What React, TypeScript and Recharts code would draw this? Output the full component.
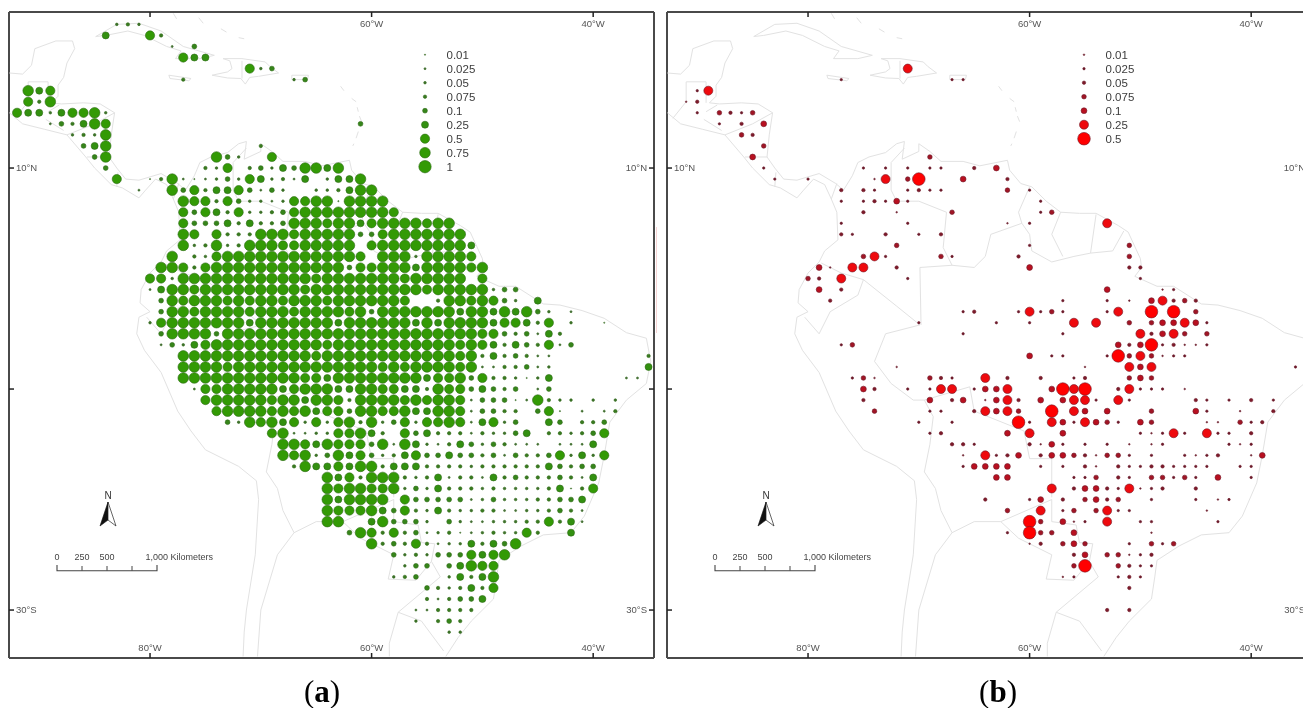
import { ScatterChart, Scatter, XAxis, YAxis } from 'recharts';

// each row: latitude, first longitude, one size class per degree of longitude
// ('.' = no record, spaces only group the digits so they can be counted)
type Row = [number, number, string];

const greenValues = [0.01, 0.025, 0.05, 0.075, 0.1, 0.25, 0.5, 0.75, 1];
const redValues = [0.01, 0.025, 0.05, 0.075, 0.1, 0.25, 0.5];

const greenRows: Row[] = [
  [23, -83, '343'], [22, -84, '6...74'], [21, -78, '2.5'], [20, -77, '766'], [19, -71, '735'],
  [18, -77, '4'], [18, -67, '35'], [17, -91, '867'], [16, -91, '748'], [15, -92, '766367783'],
  [14, -89, '254687'], [14, -61, '5'], [13, -87, '3438'], [12, -86, '568'], [12, -70, '4'],
  [11, -85, '58'], [11, -74, '853..7'], [10, -84, '5'], [10, -75, '437.453658868'],
  [9, -83, '7'], [9, -80, '148212353763426.3668'], [8, -81, '2'], [8, -78, '85746675253..334688'],
  [7, -77, '8774753323 778818888'], [6, -77, '7576473345 7888888887'],
  [5, -77, '7555646445 8887886788 88788'],
  [4, -77, '87.7444888 7888885578 888888'],
  [3, -77, '8348348887 788888.788 8888886'],
  [2, -78, '8.43788888 88888887.8 88388887'],
  [1, -79, '8874788888 8888888577 8886888878'],
  [0, -80, '7738888888 8888878888 888788888. 7'],
  [-1, -80, '2688788888 8888788888 8888878888 8 355'],
  [-2, -79, '5878887878 8788878888 887..48878 753.6'],
  [-3, -79, '5887888878 8878888785 8888888688 686853.2'],
  [-4, -80, '3788888886 8888888688 8888686888 8677647.3..1'],
  [-5, -79, '5888858888 8888888888 8888888887 7545264'],
  [-6, -79, '2536788888 8888878888 8888888787 64654725'],
  [-7, -77, '8888888888 8878888888 88888784 645422'], [-7, -35, '4'],
  [-8, -77, '8888788888 8888888878 78888782 244523'], [-8, -35, '6'],
  [-9, -77, '8888888888 8776888888 88677857443136'], [-9, -37, '22'],
  [-10, -76, '2778888867 8886688776 6487756545.25'],
  [-11, -75, '7888887886 8874888878 7887255512 8433.3.3'],
  [-12, -74, '7888878786 7758877866 88725544.571.2.24'],
  [-13, -73, '5387867373 7848357377 8726735..65.445'],
  [-14, -69, '7822337786 4.75644424 3356.443457'],
  [-15, -68, '8876877758 2863246535 4222.2226'],
  [-16, -68, '8783586753 467556554 52544573637'],
  [-17, -67, '4866768846 6644443444 44465455'],
  [-18, -64, '8674888434 6244264544 45426'],
  [-19, -64, '8788778353 6444343333 46147'],
  [-20, -64, '868888.755 5552353334 4556'],
  [-21, -64, '8777865743 6433442233 4542'],
  [-22, -64, '88..685553 .532233344 7462'],
  [-23, -62, '5874745234 12343374..6'], [-24, -60, '84547423364658'],
  [-25, -58, '53435557678'], [-26, -57, '355.56877'], [-27, -58, '345..36468'],
  [-28, -55, '5434647'], [-29, -55, '424556'], [-30, -56, '224444'], [-31, -56, '3.454'], [-32, -53, '33'],
];

const redRows: Row[] = [
  [19, -71, '6'], [18, -77, '2'], [18, -67, '22'], [17, -90, '26'], [16, -91, '13'], [15, -90, '2.4324'],
  [14, -88, '2.3.5'], [13, -86, '43'], [12, -84, '4'], [11, -85, '5'], [11, -69, '4'],
  [10, -84, '2'], [10, -75, '2.2.2.22..3.5'], [9, -83, '2'], [9, -80, '2'], [9, -74, '16.47...5...3'],
  [8, -77, '3.32..2322.....4.2'], [7, -77, '2.23252'], [7, -59, '2'], [6, -75, '3'], [6, -72, '1'],
  [6, -67, '4'], [6, -59, '24'], [5, -77, '2'], [5, -71, '2'], [5, -62, '1.2'], [5, -53, '6'],
  [4, -77, '32'], [4, -73, '3'], [4, -70, '2.3'], [3, -72, '4'], [3, -60, '2'], [3, -51, '4'],
  [2, -75, '462'], [2, -68, '42'], [2, -61, '3'], [2, -51, '4'], [1, -79, '51.66'], [1, -72, '3'],
  [1, -60, '5'], [1, -51, '33'], [0, -80, '43.6'], [0, -71, '2'], [0, -50, '2'], [-1, -79, '5.3'],
  [-1, -53, '5'], [-1, -48, '12'], [-2, -78, '3'], [-2, -57, '2...2.1.56343'], [-3, -66, '23'],
  [-3, -61, '26242'], [-3, -53, '26..7.7.4'], [-4, -70, '2'], [-4, -63, '2'], [-4, -60, '2'],
  [-4, -56, '6.6'], [-4, -51, '4.455652'], [-5, -66, '2'], [-5, -57, '2'], [-5, -50, '63564.4'],
  [-6, -77, '24'], [-6, -52, '535723112'], [-7, -60, '5.22'], [-7, -53, '27464122'], [-8, -72, '1'],
  [-8, -55, '1'], [-8, -51, '656'], [-8, -36, '2'], [-9, -76, '241'], [-9, -69, '432'], [-9, -64, '6.3'],
  [-9, -59, '3'], [-9, -56, '23'], [-9, -51, '454'], [-10, -75, '53..2'], [-10, -69, '266.2556'],
  [-10, -58, '5767..36222.1'], [-11, -75, '3'], [-11, -69, '5.35.1563.5.5662.62'], [-11, -45, '32.2.3.2'],
  [-12, -74, '4'], [-12, -69, '22..36564..7.65.5...4...52..1..3'], [-13, -70, '2..2'],
  [-13, -61, '72.6526542.54'], [-13, -44, '11.423'], [-14, -69, '23'], [-14, -62, '5.6..5'],
  [-14, -50, '21262.622.3'], [-15, -67, '332'], [-15, -60, '3152'], [-15, -55, '2.2.1.12'], [-15, -42, '212'],
  [-16, -66, '1.6235.355431442.2..2123..15'], [-17, -66, '25555'], [-17, -59, '2.2'],
  [-17, -55, '31.322332222..22'], [-18, -63, '55'], [-18, -56, '224.32.44242.5..2'],
  [-19, -58, '6.355326123..3'], [-20, -64, '3...25.3.4534..2...2.12'], [-21, -62, '4..6.24.4622'],
  [-21, -44, '1'], [-22, -60, '74.512.6..22'], [-22, -43, '2'], [-23, -62, '2.744.5'], [-23, -49, '1'],
  [-24, -60, '13.454'], [-24, -51, '2.424'], [-25, -56, '35.44123'], [-26, -56, '47'], [-26, -52, '4322'],
  [-27, -57, '12'], [-27, -52, '232'], [-28, -51, '3'], [-30, -53, '3.3'],
];

// coast and border traces, [lon, lat]
const mainland = [[-92.7, 18.6], [-91.5, 18.5], [-90.7, 19.3], [-90.4, 20.8], [-88.5, 21.5], [-87, 21.5], [-86.8, 20.8], [-87.5, 19.5], [-87.8, 18.2], [-88.3, 17.5], [-88.3, 16.5], [-88.9, 15.9], [-88, 15.8], [-86, 15.9], [-84.5, 15.8], [-83.2, 15], [-83.5, 13], [-83.7, 11], [-83, 10], [-82.2, 9], [-81, 8.9], [-80, 9.2], [-79, 9.5], [-77.5, 8.6], [-76.8, 8], [-76, 9.3], [-75.5, 10.5], [-74.5, 11], [-73, 11.4], [-72, 12.2], [-71.3, 12.4], [-71.5, 10.8], [-70, 11.5], [-70, 12.2], [-69, 11.5], [-68, 10.6], [-66, 10.6], [-64.5, 10.2], [-62, 10.7], [-61.8, 9.8], [-60.8, 8.6], [-59.8, 8.3], [-58.5, 7], [-57.2, 6], [-55.5, 5.9], [-54, 5.9], [-52, 4.8], [-51.1, 4.2], [-50, 1.8], [-49.9, 1], [-50.5, 0.2], [-48.5, -0.7], [-47, -0.7], [-44.5, -2.3], [-43, -2.4], [-41, -2.9], [-39, -3.6], [-37, -4.9], [-35.2, -5.4], [-34.8, -7.5], [-35.2, -9.5], [-37, -11], [-38.5, -13], [-39, -16], [-39.5, -18.5], [-40.8, -21.5], [-42, -23], [-44.5, -23.2], [-46.5, -24.2], [-48.5, -25.5], [-48.7, -27], [-49, -29], [-51, -31], [-52.2, -32.5], [-53.3, -34.2]];
const pacific = [[-71.6, -34.2], [-71.5, -32], [-71.3, -30], [-70.5, -25], [-70.2, -20], [-70.4, -18.3], [-72, -17], [-75, -15.5], [-76.3, -13.8], [-77.5, -12], [-79, -8.5], [-80.5, -6.5], [-81.2, -5], [-81, -3.5], [-80, -3], [-80.9, -2.2], [-80.8, -1], [-80, 0.5], [-79, 1.5], [-78.5, 2.5], [-77.3, 3.5], [-77.4, 6], [-77.9, 7.2], [-78.5, 8.5], [-79.5, 9], [-80.4, 8], [-81, 7.3], [-82.5, 8.2], [-83.5, 8.5], [-85, 10], [-85.8, 11], [-87.5, 13], [-89.5, 13.5], [-91.5, 14], [-92.7, 15]];
const cuba = [[-84.9, 21.9], [-83, 23], [-81, 23.1], [-79, 22.4], [-77, 21], [-74.2, 20.2], [-75.5, 19.9], [-77.7, 19.9], [-77.2, 20.6], [-78.5, 21], [-80.5, 22], [-82, 22.4], [-84, 22], [-84.9, 21.9]];
const jamaica = [[-78.3, 18.4], [-76.3, 18.1], [-76.5, 17.9], [-78.2, 18.1], [-78.3, 18.4]];
const hispaniola = [[-74.4, 18.4], [-73, 18.7], [-72.6, 19], [-72.8, 19.7], [-73.4, 19.9], [-71.7, 19.9], [-69.6, 19.6], [-69.2, 19.2], [-68.4, 18.6], [-70.2, 18.3], [-71, 18.2], [-71.4, 17.6], [-71.8, 18.1], [-73, 18.15], [-74.4, 18.4]];
const puertoRico = [[-67.2, 18.4], [-65.7, 18.4], [-65.8, 18], [-67.2, 18], [-67.2, 18.4]];
const antilles = [[[-62.8, 17.4], [-62.5, 17]], [[-61.8, 16.3], [-61.4, 16]], [[-61.3, 15.5], [-61.2, 15.1]], [[-61.1, 14.7], [-60.9, 14.2]], [[-61.2, 13.3], [-61.4, 12.7]], [[-61.6, 12.2], [-61.7, 12]], [[-77.9, 24], [-77.6, 23.5]], [[-75.6, 23.6], [-75.2, 23.1]], [[-73.6, 22.6], [-73.1, 22.3]], [[-72, 21.8], [-71.5, 21.7]]];
const borders = [
  [[-71.3, 11.8], [-72.5, 10.5], [-72.5, 8], [-72, 7], [-70, 7], [-67.5, 6], [-67.8, 2.8], [-67, 1.2]],
  [[-67, 1.2], [-65, 1], [-64, 2], [-63.5, 4], [-60.7, 5], [-60, 4], [-59.8, 2.5], [-58, 1.5], [-56, 2], [-54.5, 2.3], [-52.5, 2.5], [-51.5, 4.3]],
  [[-60.7, 5], [-61, 6], [-60, 8.3]], [[-57.2, 6], [-58, 4], [-57, 2]], [[-54, 5.8], [-54.5, 2.3]],
  [[-67, 1.2], [-69.9, 1], [-69.8, -4.2]], [[-69.9, -4.2], [-72, -2.5], [-75, -0.1]],
  [[-75, -0.1], [-77, 0.5], [-78.8, 1.4]], [[-75, -0.1], [-75.5, -1.5], [-78, -3], [-79, -5], [-80.3, -3.5]],
  [[-69.9, -4.2], [-73, -5], [-74, -7.5], [-72.5, -9.5], [-70.5, -11], [-69.5, -11]],
  [[-69.5, -11], [-68.7, -12.5], [-69, -15], [-69.5, -17.5], [-68.5, -19], [-68, -21], [-67, -23], [-65, -22], [-62.6, -22], [-58, -20]],
  [[-69.5, -11], [-65.4, -9.8], [-65, -12], [-60.5, -13.8], [-60, -16.3], [-58, -16.3], [-58, -19.8]],
  [[-62.6, -22], [-61, -23.5], [-58, -25], [-58.5, -27.2], [-56, -27.3], [-54.6, -25.6], [-54.3, -24], [-55.5, -23.9], [-55.8, -22.3], [-58, -22], [-58, -20]],
  [[-67, -23], [-68.5, -25], [-70, -30], [-70.3, -34.2]], [[-54.6, -25.6], [-53.8, -27], [-57.6, -30.2], [-58.4, -33], [-58.4, -34.2]],
  [[-57.6, -30.2], [-55.5, -31], [-53.5, -33.7]], [[-92.2, 14.5], [-91, 16], [-91, 17.8], [-89.2, 17.8], [-89.2, 15.9]],
  [[-89.2, 15.1], [-88.2, 15.7]], [[-87.5, 13], [-85, 14], [-83.2, 15]], [[-85.7, 11], [-83.7, 11]],
  [[-82.9, 9.6], [-83, 8.3]], [[-77.4, 8.6], [-77.9, 7.2]], [[-71.7, 19.7], [-71.7, 18.1]], [[-89.4, 14.4], [-87.8, 13.4]],
];
const coastLines = [mainland, pacific, cuba, jamaica, hispaniola, puertoRico, ...antilles, ...borders];

const lonTicks = [-80, -60, -40];
const latTicks = [10, -10, -30];
const scaleLabels = ['0', '250', '500', '', '1,000 Kilometers'];

const greenRadii = [0.6, 1, 1.3, 1.7, 2.4, 3.5, 4.6, 5.3, 6.2];
const redRadii = [0.8, 1.2, 1.7, 2.3, 2.9, 4.5, 6.3];
const greenFills = ['#6a7a60', '#4f6a45', '#40702e', '#3a7a20', '#36851a', '#339010', '#339a05', '#339a05', '#339a05'];
const redFills = ['#6a2a38', '#6a1a2c', '#7c1a2a', '#a01525', '#b81020', '#ee0a0e', '#ff0000'];
const GREEN_EDGE = '#2b6a14';
const RED_EDGE = '#6e1a28';

const lonDomain = [-92.73, -34.51];
const latDomain = [-34.34, 24.12];
const AXIS = '#4a4a4a';
const LABEL = { fontSize: 9.5, fill: '#555', fontFamily: 'Liberation Sans' };

function expand(rows: Row[], values: number[]) {
  const pts: { lon: number; lat: number; value: number; cls: number }[] = [];
  rows.forEach(([lat, from, codes]) => {
    codes.replace(/ /g, '').split('').forEach((c, i) => {
      if (c !== '.') pts.push({ lon: from + i, lat, value: values[+c - 1], cls: +c - 1 });
    });
  });
  return pts;
}

const lonLabel = (v: number) => `${Math.abs(v)}°W`;
const latLabel = (v: number) => `${Math.abs(v)}°${v > 0 ? 'N' : 'S'}`;

function Panel({ left, points, radii, fills, stroke, topLabels, leftLabels, rightLabels }: any) {
  const dot = (p: any) => (
    <circle cx={p.cx} cy={p.cy} r={radii[p.payload.cls]} fill={fills[p.payload.cls]} stroke={stroke} strokeWidth={0.6} />
  );
  const axis = { stroke: AXIS, strokeWidth: 2 };
  const tick = { stroke: '#222', strokeWidth: 1.5 };
  return (
    <div style={{ position: 'absolute', left: left - 2, top: 10 }}>
      <ScatterChart width={649} height={650} margin={{ top: 2, right: 2, bottom: 2, left: 2 }}>
        <XAxis type="number" dataKey="lon" domain={lonDomain} allowDataOverflow ticks={lonTicks} interval={0}
          mirror tickSize={5} tickMargin={2} axisLine={axis} tickLine={tick} tick={LABEL} tickFormatter={lonLabel} />
        <XAxis xAxisId="top" type="number" dataKey="lon" orientation="top" domain={lonDomain} allowDataOverflow ticks={lonTicks}
          interval={0} mirror tickSize={5} tickMargin={3} axisLine={axis} tickLine={tick} tick={LABEL}
          tickFormatter={(v: number) => (topLabels.includes(v) ? lonLabel(v) : '')} />
        <YAxis type="number" dataKey="lat" domain={latDomain} allowDataOverflow ticks={latTicks} interval={0}
          mirror tickSize={5} tickMargin={2} axisLine={axis} tickLine={tick} tick={LABEL}
          tickFormatter={(v: number) => (leftLabels.includes(v) ? latLabel(v) : '')} />
        <YAxis yAxisId="right" type="number" dataKey="lat" orientation="right" domain={latDomain} allowDataOverflow ticks={latTicks}
          interval={0} mirror tickSize={5} tickMargin={2} axisLine={axis} tickLine={tick} tick={LABEL}
          tickFormatter={(v: number) => (rightLabels.includes(v) ? latLabel(v) : '')} />
        {coastLines.map((line, i) => (
          <Scatter key={i} data={line.map(([lon, lat]) => ({ lon, lat }))} line={{ stroke: '#e2e2e2', strokeWidth: 1 }}
            shape={() => <g />} isAnimationActive={false} />
        ))}
        <Scatter data={points} shape={dot} isAnimationActive={false} />
      </ScatterChart>
    </div>
  );
}

function SizeKey({ left, values, radii, fills, stroke }: any) {
  return (
    <svg style={{ position: 'absolute', left, top: 45 }} width={70} height={135}>
      {values.map((v: number, i: number) => (
        <g key={v}>
          <circle cx={15} cy={9.7 + i * 14} r={radii[i]} fill={fills[i]} stroke={stroke} strokeWidth={0.6} />
          <text x={36.5} y={13.7 + i * 14} fontSize={11.5} fill="#3c3c3c" fontFamily="Liberation Sans">{v}</text>
        </g>
      ))}
    </svg>
  );
}

function MapFurniture({ left }: { left: number }) {
  const x0 = 48;
  return (
    <svg style={{ position: 'absolute', left: left, top: 485 }} width={240} height={95}>
      <text x={99} y={14} fontSize={10} textAnchor="middle" fill="#333" fontFamily="Liberation Sans">N</text>
      <path d="M99 17 L91 41 L99 35 Z" fill="#111" stroke="#111" strokeWidth={0.6} />
      <path d="M99 17 L107 41 L99 35 Z" fill="#fff" stroke="#222" strokeWidth={0.7} />
      <path d={`M${x0} 80 V85.7 H${x0 + 100} V80`} fill="none" stroke="#444" strokeWidth={1.1} />
      {scaleLabels.map((s, i) => (
        <g key={i}>
          {i > 0 && i < 4 && <line x1={x0 + i * 25} x2={x0 + i * 25} y1={81} y2={85.7} stroke="#444" strokeWidth={1} />}
          {s && (
            <text x={i === 4 ? x0 + 88.5 : x0 + i * 25} y={74.5} fontSize={9} textAnchor={i === 4 ? 'start' : 'middle'} fill="#444"
              fontFamily="Liberation Sans">{s}</text>
          )}
        </g>
      ))}
    </svg>
  );
}

const Caption = ({ x, letter }: { x: number; letter: string }) => (
  <div style={{ position: 'absolute', left: x, top: 674, width: 60, textAlign: 'center', fontFamily: 'Liberation Serif', fontSize: 31, lineHeight: '36px', color: '#000' }}>
    (<b>{letter}</b>)
  </div>
);

export default function App() {
  return (
    <div style={{ position: 'fixed', left: 0, top: 0, width: 1303, height: 708, overflow: 'hidden', background: '#fff', filter: 'blur(0.35px)' }}>
      <Panel left={9} points={expand(greenRows, greenValues)} radii={greenRadii} fills={greenFills} stroke={GREEN_EDGE}
        topLabels={[-60, -40]} leftLabels={[10, -30]} rightLabels={[10, -30]} />
      <div style={{ position: 'absolute', left: 656, top: 227, width: 1, height: 106, background: '#f6d4d4' }} />
      <Panel left={667} points={expand(redRows, redValues)} radii={redRadii} fills={redFills} stroke={RED_EDGE}
        topLabels={[-60, -40]} leftLabels={[10]} rightLabels={[10, -30]} />
      <SizeKey left={410} values={greenValues} radii={greenRadii} fills={greenFills} stroke={GREEN_EDGE} />
      <SizeKey left={1069} values={redValues} radii={redRadii} fills={redFills} stroke={RED_EDGE} />
      <MapFurniture left={9} />
      <MapFurniture left={667} />
      <Caption x={292} letter="a" />
      <Caption x={968} letter="b" />
    </div>
  );
}
